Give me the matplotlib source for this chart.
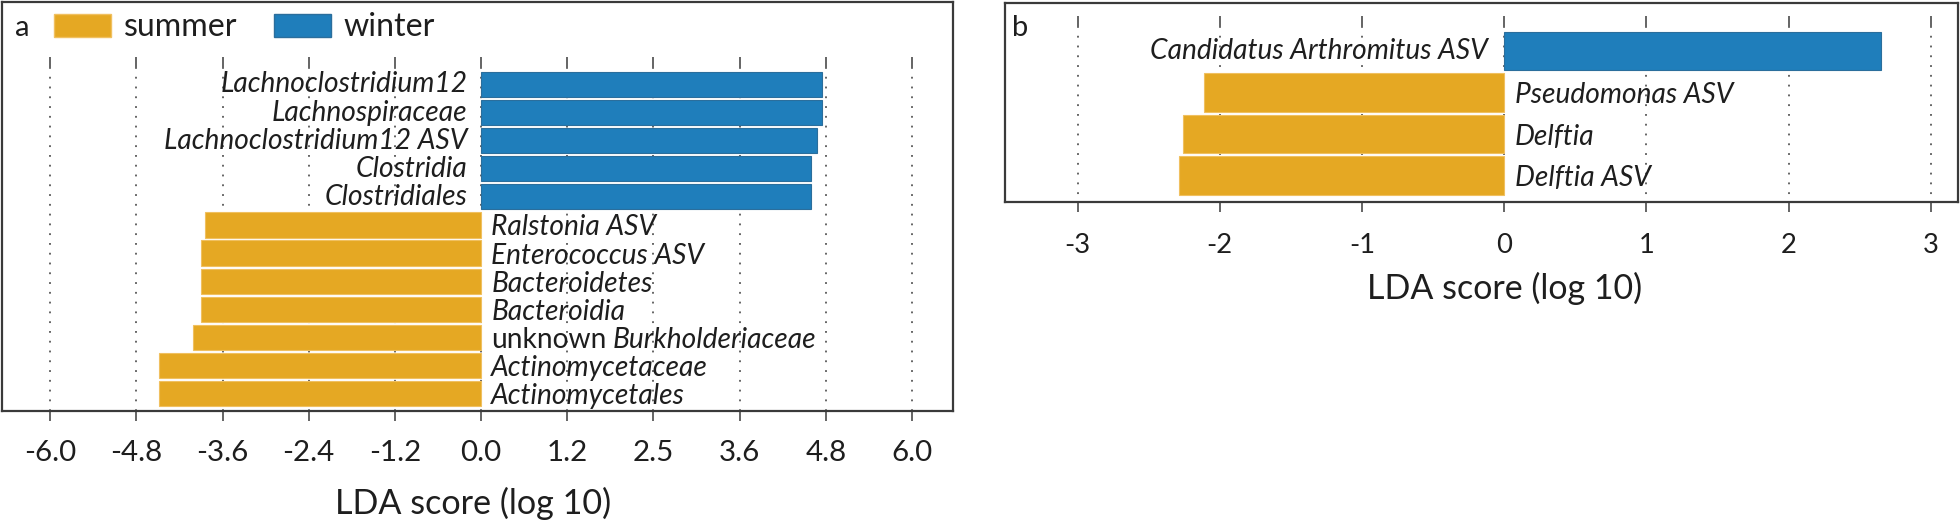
import matplotlib
matplotlib.use("Agg")
import matplotlib.pyplot as plt
from matplotlib.patches import Patch

plt.rcParams['font.family'] = ['Lato', 'DejaVu Sans']

# ---------------- data ----------------
a_taxa = ["Lachnoclostridium12", "Lachnospiraceae", "Lachnoclostridium12 ASV",
          "Clostridia", "Clostridiales", "Ralstonia ASV", "Enterococcus ASV",
          "Bacteroidetes", "Bacteroidia", "unknown Burkholderiaceae",
          "Actinomycetaceae", "Actinomycetales"]
a_scores = [4.74, 4.74, 4.68, 4.59, 4.59, -3.84, -3.90, -3.90, -3.90, -4.01, -4.48, -4.48]
a_ticks = [-6.0, -4.8, -3.6, -2.4, -1.2, 0.0, 1.2, 2.4, 3.6, 4.8, 6.0]
a_ticklabels = ["-6.0", "-4.8", "-3.6", "-2.4", "-1.2", "0.0", "1.2", "2.5", "3.6", "4.8", "6.0"]

b_taxa = ["Candidatus Arthromitus ASV", "Pseudomonas ASV", "Delftia", "Delftia ASV"]
b_scores = [2.65, -2.11, -2.26, -2.29]
b_ticks = [-3, -2, -1, 0, 1, 2, 3]
b_ticklabels = ["-3", "-2", "-1", "0", "1", "2", "3"]

groups = ["summer", "winter"]
ORANGE = "#E5A823"
BLUE = "#1F7EBB"
SPINE = "#3a3a3a"
TXT = "#1e1e1e"

W, H = 1960, 522
fig = plt.figure(figsize=(W / 100, H / 100), dpi=100)
renderer = fig.canvas.get_renderer()


def fit_size(s, target_px, style="normal", base=20.0):
    t = fig.text(0, 0, s, fontsize=base, style=style)
    w = t.get_window_extent(renderer).width
    t.remove()
    return base * target_px / w


FS_XLAB_A = fit_size("LDA score (log 10)", 277)
FS_XLAB_B = fit_size("LDA score (log 10)", 275)
FS_TICK_A = fit_size("-1.2", 52)
FS_TICK_B = fit_size("-2", 26)
FS_LAB_A = fit_size("Lachnoclostridium12 ASV", 303, "italic")
FS_LAB_B = fit_size("Candidatus Arthromitus ASV", 338, "italic")
FS_LEG = fit_size("summer", 114)


def px_axes(l, t, r, b):
    return fig.add_axes([l / W, 1 - b / H, (r - l) / W, (b - t) / H])


def draw_panel(ax, taxa, scores, ticks, ticklabels, xlim, ylim, grid_top, solid_len,
               height, lab_off_neg, lab_off_pos, lab_fs, tick_fs, tick_pad,
               xlab_fs, xlab_xy):
    n = len(taxa)
    ypos = list(range(n))
    colors = [BLUE if s > 0 else ORANGE for s in scores]
    edges = ["#2b6e9c" if s > 0 else "#f0c060" for s in scores]
    ax.barh(ypos, scores, height=height, color=colors, edgecolor=edges, linewidth=0.8, zorder=2)
    # grid lines
    ax.vlines(ticks, grid_top + solid_len, ylim[0], colors=SPINE, linewidth=1.1,
              linestyles=(0, (1.2, 5.2)), zorder=1)
    ax.vlines(ticks, grid_top, grid_top + solid_len, colors=SPINE, linewidth=1.1, zorder=1)
    for y, t, s in zip(ypos, taxa, scores):
        if s > 0:
            ax.text(lab_off_neg, y, t, ha="right", va="center", fontsize=lab_fs,
                    style="italic", color=TXT, zorder=3)
        else:
            if t.startswith("unknown "):
                t1 = ax.text(lab_off_pos, y, "unknown", ha="left", va="center_baseline",
                             fontsize=lab_fs, color=TXT, zorder=3)
                ax.annotate(t[len("unknown "):], xy=(1, 0), xycoords=t1,
                            xytext=(4.5, 0), textcoords="offset points",
                            ha="left", va="bottom", fontsize=lab_fs, style="italic",
                            color=TXT, zorder=3)
            else:
                ax.text(lab_off_pos, y, t, ha="left", va="center_baseline", fontsize=lab_fs,
                        style="italic", color=TXT, zorder=3)
    ax.set_xlim(*xlim)
    ax.set_ylim(*ylim)
    ax.set_yticks([])
    ax.set_xticks(ticks)
    ax.set_xticklabels(ticklabels, fontsize=tick_fs)
    ax.tick_params(axis="x", direction="out", length=7.5, width=1.1, color=SPINE,
                   pad=tick_pad, labelcolor=TXT)
    for sp in ax.spines.values():
        sp.set_color(SPINE)
        sp.set_linewidth(1.6)
    ax.set_xlabel("LDA score (log 10)", fontsize=xlab_fs, color=TXT, va="center")
    ax.xaxis.set_label_coords(*xlab_xy)


# ---------------- panel a ----------------
axa = px_axes(2, 1.5, 953, 411)
draw_panel(axa, a_taxa, a_scores, a_ticks, a_ticklabels,
           xlim=(-6.67, 6.57), ylim=(11.62, -2.95), grid_top=-0.98, solid_len=0.36,
           height=0.9, lab_off_neg=-0.19, lab_off_pos=0.14, lab_fs=FS_LAB_A,
           tick_fs=FS_TICK_A, tick_pad=13.5, xlab_fs=FS_XLAB_A,
           xlab_xy=((473.5 - 2) / 951, (411 - 503) / 409.5))

leg_px = FS_LEG * 100 / 72
handles = [Patch(facecolor=ORANGE, edgecolor="#f0c060"),
           Patch(facecolor=BLUE, edgecolor="#2b6e9c")]
leg = axa.legend(handles, groups, loc="center left", ncol=2, frameon=False,
                 bbox_to_anchor=(52 / 951, 1 - 26 / 409.5), borderpad=0, borderaxespad=0,
                 fontsize=FS_LEG, handlelength=57 / leg_px, handleheight=23 / leg_px,
                 handletextpad=13 / leg_px, columnspacing=36 / leg_px, labelcolor=TXT)
fig.text(15 / W, 1 - 28 / H, "a", fontsize=FS_LEG * 0.9, va="center", ha="left", color=TXT)

# ---------------- panel b ----------------
axb = px_axes(1005, 3, 1958, 202)
draw_panel(axb, b_taxa, b_scores, b_ticks, b_ticklabels,
           xlim=(-3.51, 3.19), ylim=(3.64, -1.16), grid_top=-0.84, solid_len=0.24,
           height=0.92, lab_off_neg=-0.115, lab_off_pos=0.075, lab_fs=FS_LAB_B,
           tick_fs=FS_TICK_B, tick_pad=15, xlab_fs=FS_XLAB_B,
           xlab_xy=((1504.5 - 1005) / 953, (202 - 288) / 199))
fig.text(1012 / W, 1 - 28 / H, "b", fontsize=FS_LEG * 0.9, va="center", ha="left", color=TXT)

fig.savefig("out.png", dpi=100)
